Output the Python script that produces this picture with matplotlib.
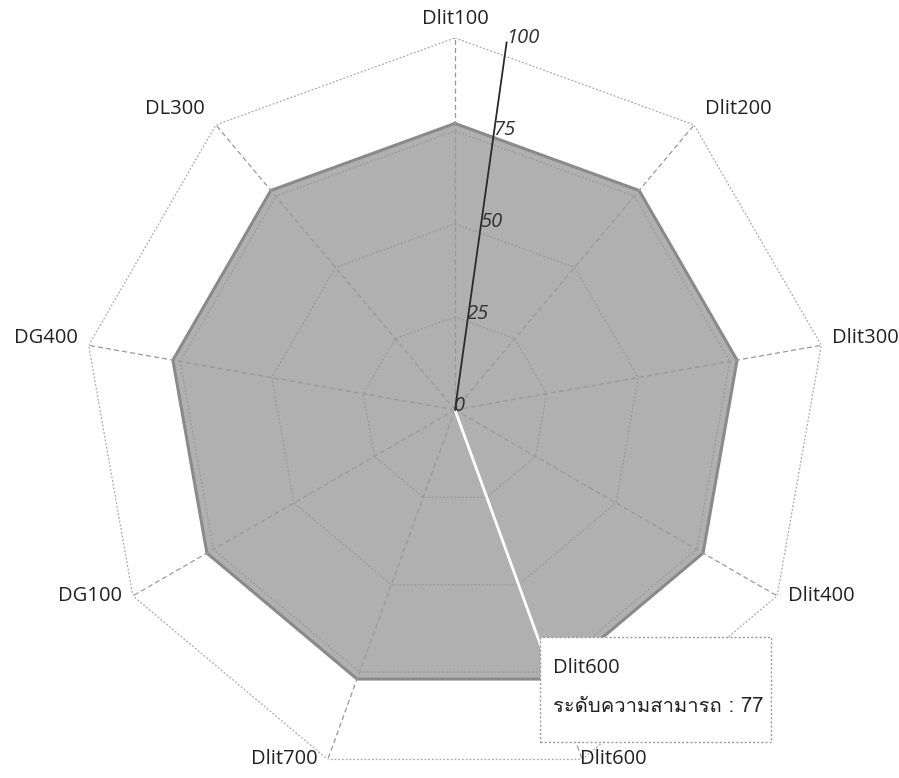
import numpy as np
import matplotlib
matplotlib.use('Agg')
import matplotlib.pyplot as plt
from matplotlib import font_manager
from matplotlib.ft2font import FT2Font
from matplotlib.patches import Rectangle

# Daten
categories = ['Dlit100', 'Dlit200', 'Dlit300', 'Dlit400', 'Dlit600',
              'Dlit700', 'DG100', 'DG400', 'DL300']
values = [77, 77, 77, 77, 77, 77, 77, 77, 77]
r_ticks = [0, 25, 50, 75, 100]
tip_title = 'Dlit600'
tip_label = 'ระดับความสามารถ'
tip_value = 77


# Schrift mit Thai-Zeichen suchen
def find_thai_font():
    for f in font_manager.fontManager.ttflist:
        try:
            cmap = FT2Font(f.fname).get_charmap()
        except Exception:
            continue
        if ord('ร') in cmap and ord('7') in cmap:
            return f.name
    return None


thai = find_thai_font()
BASE = 'Open Sans'
fams = [BASE, 'DejaVu Sans']
thai_fams = ([thai] if thai else []) + fams
plt.rcParams['font.family'] = fams

fig = plt.figure(figsize=(8.99, 7.78), dpi=100)
ax = fig.add_axes([0.0923, -0.005, 0.8276, 0.9563], projection='polar')
ax.set_theta_zero_location('N')
ax.set_theta_direction(-1)
ax.set_ylim(0, 100)
ax.grid(False)
ax.spines['polar'].set_visible(False)
ax.set_xticks([])
ax.set_yticks([])
ax.patch.set_alpha(0)

n = len(categories)
angles = np.linspace(0, 2 * np.pi, n, endpoint=False)
closed = np.append(angles, angles[0])

# Datenfläche
vals = np.append(values, values[0])
ax.fill(closed, vals, color='#b0b0b0', zorder=2)
ax.plot(closed, vals, color='#8a8a8a', lw=2.2, zorder=3)

# Gitter (Polygone + Speichen)
for r in r_ticks[1:]:
    col = '#999999' if r < 100 else '#aaaaaa'
    ax.plot(closed, [r] * (n + 1), color=col, lw=0.9, ls=(0, (1.5, 1.5)), zorder=4)
for a in angles:
    ax.plot([a, a], [0, 100], color='#999999', lw=0.9, ls=(0, (4, 2.5)), zorder=4)

# hervorgehobene Speiche
idx = categories.index(tip_title)
ax.plot([angles[idx], angles[idx]], [0, values[idx]], color='white', lw=2, zorder=5)

# Kategorien
for a, lab in zip(angles, categories):
    s, c = np.sin(a), np.cos(a)
    if abs(s) < 0.1:
        ha, dx = 'center', 0
    elif abs(s) < 0.5:
        ha = 'left' if s > 0 else 'right'
        dx = -2 if s > 0 else -10
    else:
        ha = 'left' if s > 0 else 'right'
        dx = 11 * np.sign(s)
    dy = 5 + 14 * c if c > 0 else 0
    ax.annotate(lab, xy=(a, 100), xytext=(dx, dy), textcoords='offset pixels',
                ha=ha, va='center', fontsize=14.5, color='#222222', zorder=6,
                annotation_clip=False)

# schräge Skalenachse
tilt = np.deg2rad(8)
ax.plot([tilt, tilt], [0, 100], color='#2a2a2a', lw=1.3, zorder=6)
for r in r_ticks:
    ax.annotate(str(r), xy=(tilt, r), xytext=(-1, 4), textcoords='offset pixels',
                ha='left', va='center', fontsize=14.5, style='italic',
                color='#333333', zorder=7)

# Tooltip
fig.patches.append(Rectangle((0.6007, 0.0463), 0.257, 0.135, transform=fig.transFigure,
                             facecolor='white', edgecolor='#999999', lw=1,
                             ls=(0, (1.5, 1.5)), zorder=10))
fig.text(0.615, 0.1414, tip_title, ha='left', va='center', fontsize=14.5,
         color='#222222', zorder=11)
fig.text(0.615, 0.0925, f'{tip_label} : {tip_value}', ha='left', va='center',
         fontsize=14.5, color='#222222', family=thai_fams, zorder=11)

fig.savefig('out.png', dpi=100)
